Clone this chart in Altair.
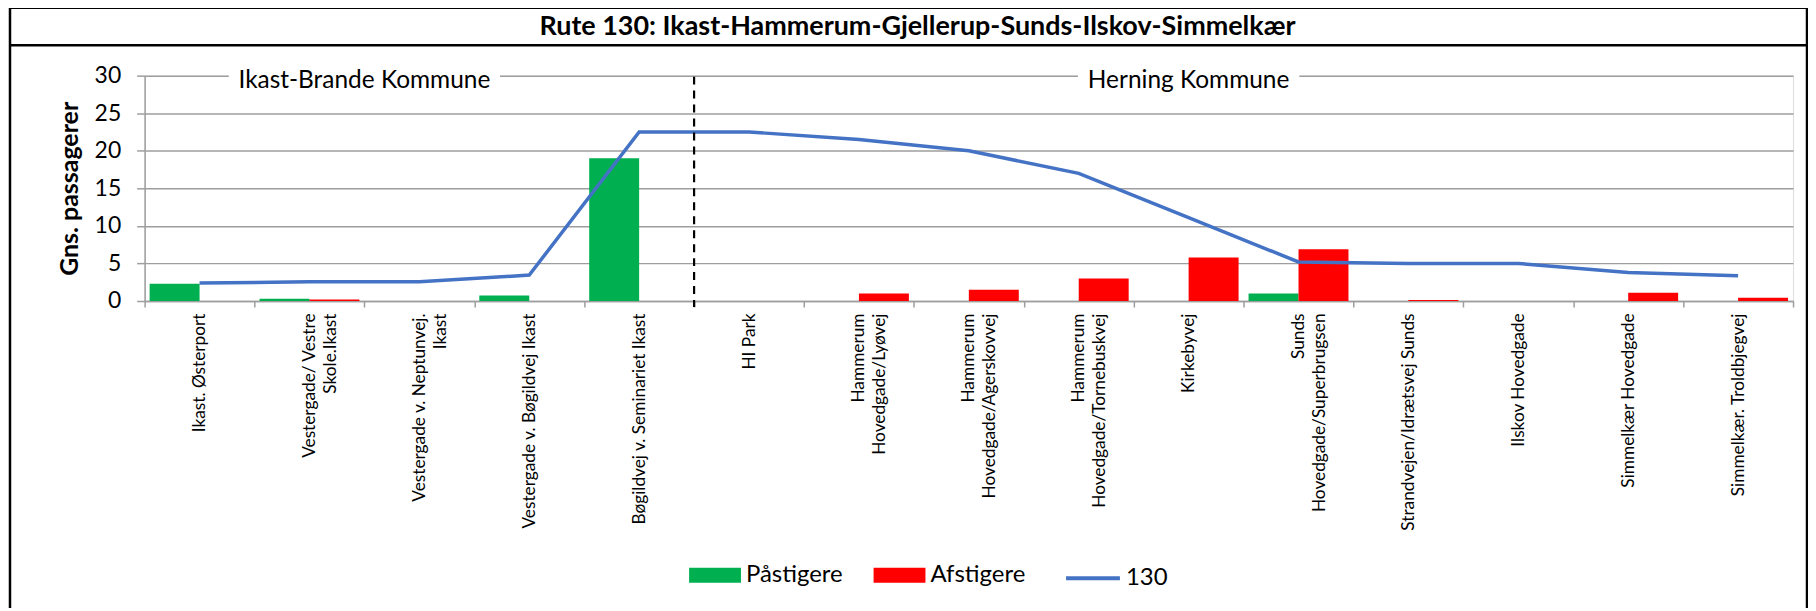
import altair as alt
import pandas as pd

# ---------------- data ----------------
title_text = "Rute 130: Ikast-Hammerum-Gjellerup-Sunds-Ilskov-Simmelkær"
stops = [
    "Ikast. Østerport",
    "Vestergade/ Vestre|Skole.Ikast",
    "Vestergade v. Neptunvej.|Ikast",
    "Vestergade v. Bøgildvej Ikast",
    "Bøgildvej v. Seminariet Ikast",
    "HI Park",
    "Hammerum|Hovedgade/Lyøvej",
    "Hammerum|Hovedgade/Agerskovvej",
    "Hammerum|Hovedgade/Tornebuskvej",
    "Kirkebyvej",
    "Sunds|Hovedgade/Superbrugsen",
    "Strandvejen/Idrætsvej Sunds",
    "Ilskov Hovedgade",
    "Simmelkær Hovedgade",
    "Simmelkær. Troldbjegvej",
]
paastigere = [2.3, 0.3, 0, 0.75, 19.0, 0, 0, 0, 0, 0, 1.0, 0, 0, 0, 0]
afstigere = [0, 0.2, 0, 0, 0, 0, 1.0, 1.5, 3.0, 5.8, 6.9, 0.15, 0, 1.1, 0.45]
rute130 = [2.4, 2.55, 2.55, 3.45, 22.5, 22.5, 21.5, 20.0, 17.0, 11.1, 5.2, 5.0, 5.0, 3.8, 3.35]

bar_series = ["Påstigere", "Afstigere"]
line_series = ["130"]
y_ticks = [0, 5, 10, 15, 20, 25, 30]
region_names = ["Ikast-Brande Kommune", "Herning Kommune"]
region_stops = [stops[2], stops[9]]
region_level = [30, 30]
boundary_stop = [stops[5]]

# ---------------- styles ----------------
GREEN, RED, BLUE = "#00B050", "#FF0000", "#4472C4"
GRID = "#9E9E9E"
FONT = "Lato"
W, H = 1653, 226

rows = []
for s, p, a in zip(stops, paastigere, afstigere):
    rows.append({"stop": s, "serie": bar_series[0], "value": p})
    rows.append({"stop": s, "serie": bar_series[1], "value": a})
bars_df = pd.DataFrame(rows)
line_df = pd.DataFrame({"stop": stops, "linje": line_series[0], "value": rute130})
reg1 = pd.DataFrame({"stop": [region_stops[0]], "txt": [region_names[0]], "value": [region_level[0]]})
reg2 = pd.DataFrame({"stop": [region_stops[1]], "txt": [region_names[1]], "value": [region_level[1]]})
bound_df = pd.DataFrame({"stop": boundary_stop})
one = pd.DataFrame({"t": [title_text]})

x_axis = alt.Axis(
    title=None, labelAngle=-90, labelAlign="right", labelBaseline="middle",
    labelExpr="split(datum.label, '|')", labelFont=FONT, labelFontSize=17.3,
    labelLineHeight=21, labelColor="black", labelPadding=6, labelLimit=400,
    tickBand="extent", tickSize=6, tickColor=GRID, tickWidth=1.5,
    domainColor=GRID, domainWidth=1.5, grid=False,
)
x_scale = alt.Scale(domain=stops, paddingInner=0, paddingOuter=0)
y_axis = alt.Axis(
    title="Gns. passagerer", values=y_ticks, grid=True, gridColor=GRID, gridWidth=1.5,
    domainColor=GRID, domainWidth=1.5, tickColor=GRID, tickSize=8, tickWidth=1.5,
    labelFont=FONT, labelFontSize=23, labelColor="black", labelPadding=16,
    titleFont=FONT, titleFontSize=25, titleFontWeight="bold", titleColor="black",
    titleX=-75, titleY=113, titleAngle=-90, titleAlign="center", titleBaseline="middle",
)
y_scale = alt.Scale(domain=[0, 30], nice=False, zero=True)


def ye():
    return alt.Y("value:Q", scale=y_scale, axis=y_axis)


bars = alt.Chart(bars_df).mark_bar(stroke=None).encode(
    x=alt.X("stop:N", sort=stops, scale=x_scale, axis=x_axis),
    xOffset=alt.XOffset("serie:N", scale=alt.Scale(domain=bar_series, paddingInner=0, paddingOuter=0.1)),
    y=ye(),
    fill=alt.Fill(
        "serie:N",
        scale=alt.Scale(domain=bar_series, range=[GREEN, RED]),
        legend=alt.Legend(
            title=None, orient="none", legendX=546, legendY=475, direction="horizontal",
            symbolType="M-1,-0.29H1V0.29H-1Z", symbolSize=2704, symbolStrokeWidth=0,
            symbolOpacity=1, labelFont=FONT, labelFontSize=24, labelColor="black",
            labelOffset=5, columnPadding=30, padding=0,
        ),
    ),
)

line = alt.Chart(line_df).mark_line(strokeWidth=3.5).encode(
    x=alt.X("stop:N", sort=stops, scale=x_scale, axis=x_axis),
    y=ye(),
    stroke=alt.Stroke(
        "linje:N",
        scale=alt.Scale(domain=line_series, range=[BLUE]),
        legend=alt.Legend(
            title=None, orient="none", legendX=922, legendY=475, direction="horizontal",
            symbolType="stroke", symbolSize=2916, symbolStrokeWidth=4,
            labelFont=FONT, labelFontSize=24, labelColor="black", labelOffset=4, padding=0,
        ),
    ),
)

dashed = alt.Chart(bound_df).mark_rule(color="black", strokeWidth=2.2, strokeDash=[8, 6]).encode(
    x=alt.X("stop:N", sort=stops, scale=x_scale, axis=x_axis, bandPosition=0),
    y=alt.value(1),
    y2=alt.value(H + 6),
)

mask1 = alt.Chart(reg1).mark_point(
    shape="M-1,-0.04H1V0.04H-1Z", size=272 ** 2, filled=True, fill="white", opacity=1, strokeWidth=0
).encode(x=alt.X("stop:N", sort=stops, scale=x_scale, axis=x_axis, bandPosition=0), y=ye())
mask2 = alt.Chart(reg2).mark_point(
    shape="M-1,-0.05H1V0.05H-1Z", size=222 ** 2, filled=True, fill="white", opacity=1, strokeWidth=0
).encode(x=alt.X("stop:N", sort=stops, scale=x_scale, axis=x_axis), y=ye())
text1 = alt.Chart(reg1).mark_text(font=FONT, fontSize=24.5, color="black", baseline="middle", dy=5).encode(
    x=alt.X("stop:N", sort=stops, scale=x_scale, axis=x_axis, bandPosition=0), y=ye(), text="txt:N"
)
text2 = alt.Chart(reg2).mark_text(font=FONT, fontSize=24.5, color="black", baseline="middle", dy=5).encode(
    x=alt.X("stop:N", sort=stops, scale=x_scale, axis=x_axis), y=ye(), text="txt:N"
)

frame = alt.Chart(one).mark_rect(fill="white", fillOpacity=0, stroke="black", strokeWidth=2.5).encode(
    x=alt.value(-135), x2=alt.value(1667), y=alt.value(-68), y2=alt.value(560)
)
sep = alt.Chart(one).mark_rule(color="black", strokeWidth=2.5).encode(
    x=alt.value(-135), x2=alt.value(1667), y=alt.value(-30.5)
)
title_mark = alt.Chart(one).mark_text(
    font=FONT, fontSize=27, fontWeight="bold", color="black", baseline="middle", align="center"
).encode(x=alt.value(775), y=alt.value(-49), text="t:N")

chart = alt.layer(
    frame, sep, title_mark, bars, line, dashed, mask1, mask2, text1, text2
).properties(
    width=W, height=H,
    padding={"left": 137, "top": 67, "right": 15, "bottom": 307},
    autosize=alt.AutoSizeParams(type="none"),
).configure_view(stroke=None).configure(background="white")

chart.save("out.html", embed_options={"renderer": "svg", "actions": False})
